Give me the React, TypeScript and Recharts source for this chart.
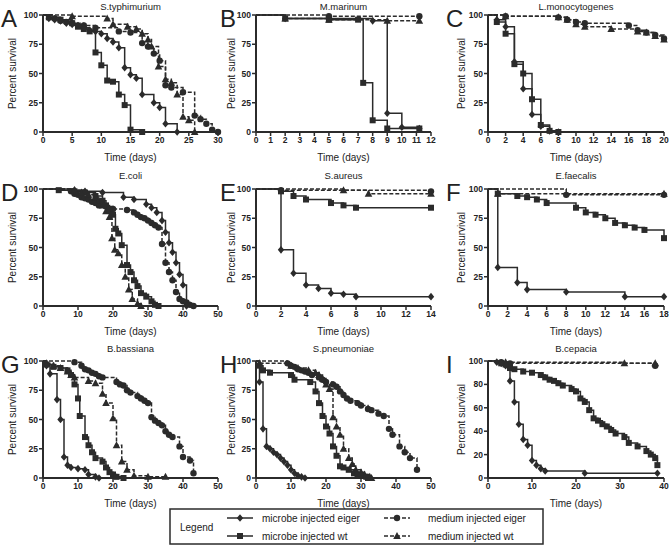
import React from "react";
import { LineChart, Line, XAxis, YAxis } from "recharts";

const FONT = "'Liberation Sans', Arial, sans-serif";
const INK = "#2b2b2b";

// [time (days), percent survival]
// A - S.typhimurium
const typhiEiger = [[0,100],[1,97],[2,96],[3,95],[4,93],[5,92],[6,91],[7,89],[8,87],[9,86],[10,84],[11,80],[12,77],[13,72],[14,55],[15,49],[16,46],[17,32],[19,25],[20,21],[21,7],[23,0]];
const typhiWt = [[0,100],[1,98],[3,96],[5,93],[6,90],[7,88],[8,86],[9,68],[10,57],[11,44],[12,43],[13,32],[14,23],[15,2],[17,0]];
const typhiMedEiger = [[0,100],[2,97],[3,95],[4,94],[5,93],[7,91],[9,89],[13,86],[15,85],[17,76],[18,73],[19,67],[20,61],[21,40],[22,38],[24,34],[26,14],[27,11],[28,7],[29,2],[30,0]];
const typhiMedWt = [[0,100],[5,99],[11,97],[12,92],[14.5,90],[16,88],[17,84],[18,79],[18.6,73],[19.8,56],[21,45],[22,42],[23,32],[24,13],[25,10],[26,0]];

// B - M.marinum
const marinumEiger = [[0,100],[2,97],[5,97],[8,95],[9,16],[10,4],[11.2,3]];
const marinumWt = [[0,100],[2,97],[5,96],[7,96],[7.35,42],[8,10],[9,3],[11.2,3]];
const marinumMedEiger = [[0,100],[5,99],[11.2,99]];
const marinumMedWt = [[0,100],[2,97],[5,96],[9,95],[11.2,95]];

// C - L.monocytogenes
const listeriaEiger = [[0,100],[1,96],[2,90],[3,60],[4,37],[5,15],[6,5],[7,1],[8,0]];
const listeriaWt = [[0,100],[1,94],[2,84],[3,58],[4,50],[5,28],[6,6],[7,1],[8,0]];
const listeriaMedEiger = [[0,100],[2,99],[8,98],[9,96],[10,94],[11,93],[16,91],[17,87],[18,85],[19,83],[20,80]];
const listeriaMedWt = [[0,100],[2,99],[8,98],[9,96],[10,92],[11,90],[14,88],[17,86],[18,85],[19,82],[20,79]];

// D - E.coli
const coliEiger = [[0,100],[9,99],[12,98],[17,97],[23,93],[26,91],[29.5,87],[31,84],[32.5,80],[34,73],[35,63],[36,54],[37,46],[38,37],[39,27],[40,18],[41,0]];
const coliWt = [[0,100],[4.5,99],[9,98],[12,97],[15,94],[17,90],[18,86],[19,82],[20,78],[20.7,66],[21.5,62],[22.5,52],[24,35],[25,29],[26,22],[27,17],[28,11],[29.5,8],[31,4],[32,1],[33,0]];
const coliMedEiger = [[0,100],[8,98],[9,96],[10,95],[11,93],[12,92],[13,91],[14,89],[15,88],[16,86],[18,85],[20,83],[24,82],[26,80],[27,78],[28,76],[29,75],[30,73],[31,71],[32,69],[33,67],[34,53],[35,37],[36,29],[37,22],[38,12],[39,6],[40,4],[41,3],[42,1],[43,0]];
const coliMedWt = [[0,100],[9,99],[11,97],[13,95],[15,93],[16,90],[17,86],[18,81],[19,76],[19.7,58],[20.5,48],[21.5,45],[22.5,35],[23.5,25],[24.5,14],[25.5,6],[27,2],[28,0]];

// E - S.aureus
const aureusEiger = [[0,100],[2,48],[3,28],[4,18],[5,15],[6,11],[7,10],[8,8],[14,8]];
const aureusWt = [[0,100],[2,98],[3,94],[4,91],[6,88],[7,86],[8,84],[14,84]];
const aureusMedEiger = [[0,100],[2,99],[14,98]];
const aureusMedWt = [[0,100],[7,99],[9,96],[14,96]];

// F - E.faecalis
const faecalisEiger = [[0,100],[1,33],[3,20],[4,14],[8,12],[14,8],[18,8]];
const faecalisWt = [[0,100],[1,96],[3,94],[4,93],[5,91],[6,88],[9,84],[10,80],[11,78],[12,75],[13,71],[14,69],[15,67],[16,65],[18,58]];
const faecalisMedEiger = [[0,100],[8,95],[18,95]];
const faecalisMedWt = [[0,100],[1,96],[18,96]];

// G - B.bassiana
const bassianaEiger = [[0,100],[1,96],[2,89],[4,67],[5,50],[6,18],[7,11],[8,9],[10,8],[12,7],[13,3],[15,1],[16,0]];
const bassianaWt = [[0,100],[1,97],[3,95],[5,94],[7,92],[8,88],[9,80],[10,68],[10.5,53],[12,35],[13,28],[14,22],[15,17],[17,14],[18,9],[19,5],[20,3],[21,1],[23,0]];
const bassianaMedEiger = [[0,100],[9,99],[11,96],[12,93],[13,92],[14,90],[15,89],[16,87],[17,86],[21,82],[22,80],[23,79],[24,75],[25,73],[27,70],[28,68],[29,66],[30,64],[31,52],[32,49],[33,47],[34,45],[35,40],[36,37],[37,35],[39,27],[40,18],[42,15],[43,4]];
const bassianaMedWt = [[0,100],[1,98],[3,96],[5,94],[7,91],[8,88],[9,86],[13,83],[15,81],[17,72],[18,64],[20,51],[21,28],[22.5,14],[24,7],[26,2],[30,1],[35,1]];

// H - S.pneumoniae
const pneumoEiger = [[0,100],[1,82],[2,42],[3,27],[4,25],[5,22],[6,20],[7,17],[8,14],[9,11],[10,7],[11,4],[12,2],[13,1],[14,0]];
const pneumoWt = [[0,100],[1,96],[2,92],[4,90],[10,88],[11,84],[15.5,82],[17,74],[18,64],[19,53],[20,44],[21,38],[22,27],[23,19],[24,10],[25,9],[26.5,7],[28,4],[29,3],[30,2],[31.5,1],[32,0]];
const pneumoMedEiger = [[0,100],[9,98],[10,96],[11,95],[12,93],[13,92],[14,91],[15,90],[16,88],[18,86],[19,84],[20,82],[22,80],[23,78],[24,74],[25,71],[26,68],[27,66],[29,64],[30,62],[32,59],[33,58],[35,55],[36.5,53],[38,42],[39,37],[41,27],[42.5,22],[44,17],[46,7]];
const pneumoMedWt = [[0,100],[1,98],[10,96],[12,94],[15,92],[17,90],[18,88],[19,85],[20,80],[21,76],[22,52],[23,44],[24,37],[25,25],[26.5,17],[27.5,12],[28.5,7],[30,5],[31,3],[32.5,1],[33,0]];

// I - B.cepacia
const cepaciaEiger = [[0,100],[2,99],[3,98],[4,96],[5,83],[6,65],[7,46],[8,33],[9,28],[10,15],[11,11],[12,8],[13,6],[22,4],[38.5,4]];
const cepaciaWt = [[0,100],[3,98],[4,97],[5,94],[6,93],[8,91],[10,90],[12,88],[13,86],[14,84],[15,83],[16,81],[17,79],[19,76],[20,74],[21,68],[22,65],[23,58],[24,51],[25,49],[26,46],[27,44],[28,41],[29,38],[31,35],[32,30],[34,27],[36,23],[37,20],[38,17],[38.5,11]];
const cepaciaMedEiger = [[0,100],[3,99],[5,98],[38,96]];
const cepaciaMedWt = [[0,100],[4,99],[31,98],[38,98]];

const ticks25 = [0, 25, 50, 75, 100];
const ticks20 = [0, 20, 40, 60, 80, 100];

type Kind = "diamond" | "square" | "circle" | "triangle";

const toPts = (arr: number[][]) => arr.map(([t, s]) => ({ t, s }));

function markerShape(kind: Kind, size = 1) {
  return (p: any) => {
    const { cx, cy, index } = p;
    const key = `${kind}-${index}`;
    if (index === 0 || cx == null || cy == null) return <g key={key} />;
    const k = size;
    if (kind === "diamond")
      return <path key={key} d={`M${cx},${cy - 3.8 * k}L${cx + 3.2 * k},${cy}L${cx},${cy + 3.8 * k}L${cx - 3.2 * k},${cy}Z`} fill={INK} />;
    if (kind === "square")
      return <rect key={key} x={cx - 3 * k} y={cy - 3 * k} width={6 * k} height={6 * k} fill={INK} />;
    if (kind === "circle") return <circle key={key} cx={cx} cy={cy} r={3.2 * k} fill={INK} />;
    return <path key={key} d={`M${cx},${cy - 4 * k}L${cx + 3.8 * k},${cy + 3 * k}L${cx - 3.8 * k},${cy + 3 * k}Z`} fill={INK} />;
  };
}

const makeSeries = (eiger: number[][], wt: number[][], medEiger: number[][], medWt: number[][]) => [
  { data: medEiger, kind: "circle" as Kind, dashed: true },
  { data: medWt, kind: "triangle" as Kind, dashed: true },
  { data: wt, kind: "square" as Kind, dashed: false },
  { data: eiger, kind: "diamond" as Kind, dashed: false },
];

const PH = 117;
const COLS = [
  { x: 43, w: 175, ylab: 12, letter: 1 },
  { x: 256, w: 175, ylab: 231, letter: 220 },
  { x: 488, w: 176, ylab: 461, letter: 446 },
];
const ROWS = [
  { y: 15, title: 6 },
  { y: 189, title: 175 },
  { y: 361, title: 348 },
];

const panels = [
  { letter: "A", title: "S.typhimurium", xMax: 30, xTicks: [0, 5, 10, 15, 20, 25, 30], yTicks: ticks25, series: makeSeries(typhiEiger, typhiWt, typhiMedEiger, typhiMedWt) },
  { letter: "B", title: "M.marinum", xMax: 12, xTicks: [0, 1, 2, 3, 4, 5, 6, 7, 8, 9, 10, 11, 12], yTicks: ticks25, series: makeSeries(marinumEiger, marinumWt, marinumMedEiger, marinumMedWt) },
  { letter: "C", title: "L.monocytogenes", xMax: 20, xTicks: [0, 2, 4, 6, 8, 10, 12, 14, 16, 18, 20], yTicks: ticks25, series: makeSeries(listeriaEiger, listeriaWt, listeriaMedEiger, listeriaMedWt) },
  { letter: "D", title: "E.coli", xMax: 50, xTicks: [0, 10, 20, 30, 40, 50], yTicks: ticks25, series: makeSeries(coliEiger, coliWt, coliMedEiger, coliMedWt) },
  { letter: "E", title: "S.aureus", xMax: 14, xTicks: [0, 2, 4, 6, 8, 10, 12, 14], yTicks: ticks25, series: makeSeries(aureusEiger, aureusWt, aureusMedEiger, aureusMedWt) },
  { letter: "F", title: "E.faecalis", xMax: 18, xTicks: [0, 2, 4, 6, 8, 10, 12, 14, 16, 18], yTicks: ticks25, series: makeSeries(faecalisEiger, faecalisWt, faecalisMedEiger, faecalisMedWt) },
  { letter: "G", title: "B.bassiana", xMax: 50, xTicks: [0, 10, 20, 30, 40, 50], yTicks: ticks25, series: makeSeries(bassianaEiger, bassianaWt, bassianaMedEiger, bassianaMedWt) },
  { letter: "H", title: "S.pneumoniae", xMax: 50, xTicks: [0, 10, 20, 30, 40, 50], yTicks: ticks25, series: makeSeries(pneumoEiger, pneumoWt, pneumoMedEiger, pneumoMedWt) },
  { letter: "I", title: "B.cepacia", xMax: 40, xTicks: [0, 10, 20, 30, 40], yTicks: ticks20, series: makeSeries(cepaciaEiger, cepaciaWt, cepaciaMedEiger, cepaciaMedWt) },
];

const AXIS_W = 40;
const TOP = 8;
const RIGHT = 8;

const tickStyle = { fontSize: 8.5, fontWeight: 700, fill: "#222", fontFamily: FONT };

function SurvivalChart({ panel, col, row }: any) {
  return (
    <div style={{ position: "absolute", left: col.x - AXIS_W, top: row.y - TOP }}>
      <LineChart
        width={AXIS_W + col.w + RIGHT}
        height={TOP + PH + 26}
        margin={{ top: TOP, right: RIGHT, left: 0, bottom: 0 }}
      >
        <XAxis
          type="number"
          dataKey="t"
          domain={[0, panel.xMax]}
          ticks={panel.xTicks}
          interval={0}
          height={26}
          tickSize={4}
          tickMargin={1}
          axisLine={{ stroke: INK, strokeWidth: 2 }}
          tickLine={{ stroke: INK, strokeWidth: 1.5 }}
          tick={tickStyle}
        />
        <YAxis
          type="number"
          dataKey="s"
          domain={[0, 100]}
          ticks={panel.yTicks}
          interval={0}
          width={AXIS_W}
          tickSize={4}
          tickMargin={1}
          axisLine={{ stroke: INK, strokeWidth: 2 }}
          tickLine={{ stroke: INK, strokeWidth: 1.5 }}
          tick={tickStyle}
        />
        {panel.series.map((s: any, i: number) => (
          <Line
            key={i}
            data={toPts(s.data)}
            dataKey="s"
            type="stepAfter"
            stroke={INK}
            strokeWidth={1.5}
            strokeDasharray={s.dashed ? "4 2" : undefined}
            dot={markerShape(s.kind)}
            activeDot={false}
            isAnimationActive={false}
          />
        ))}
      </LineChart>
    </div>
  );
}

function LegendSample({ x, y, kind, dashed }: { x: number; y: number; kind: Kind; dashed: boolean }) {
  const draw = markerShape(kind);
  return (
    <g>
      <line x1={x} y1={y} x2={x + 26} y2={y} stroke={INK} strokeWidth={1.5} strokeDasharray={dashed ? "4 2" : undefined} />
      {draw({ cx: x + 13, cy: y, index: 1 })}
    </g>
  );
}

export default function App() {
  return (
    <div style={{ position: "absolute", left: 0, top: 0, width: 669, height: 545, overflow: "hidden", background: "#fff", fontFamily: FONT }}>
      {panels.map((p, i) => (
        <SurvivalChart key={p.letter} panel={p} col={COLS[i % 3]} row={ROWS[Math.floor(i / 3)]} />
      ))}
      <svg width={669} height={545} style={{ position: "absolute", left: 0, top: 0, pointerEvents: "none" }}>
        {panels.map((p, i) => {
          const col = COLS[i % 3];
          const row = ROWS[Math.floor(i / 3)];
          const cx = col.x + col.w / 2;
          const midY = row.y + PH / 2;
          return (
            <g key={p.letter} fill="#222" fontFamily={FONT}>
              <text x={col.letter} y={row.y + 12} fontSize={24}>{p.letter}</text>
              <text x={cx} y={row.title} fontSize={9.5} textAnchor="middle" dominantBaseline="central">{p.title}</text>
              <text x={cx} y={row.y + PH + 25} fontSize={10} textAnchor="middle" dominantBaseline="central">Time (days)</text>
              <text x={col.ylab} y={midY} fontSize={10} textAnchor="middle" dominantBaseline="central" transform={`rotate(-90 ${col.ylab} ${midY})`}>Percent survival</text>
            </g>
          );
        })}
        <g fontFamily={FONT} fill="#222" fontSize={10}>
          <rect x={170} y={509} width={373} height={35} fill="#fff" stroke={INK} strokeWidth={1.5} />
          <text x={180} y={527} dominantBaseline="central">Legend</text>
          <LegendSample x={227} y={518} kind="diamond" dashed={false} />
          <text x={262} y={518} dominantBaseline="central">microbe injected eiger</text>
          <LegendSample x={227} y={536} kind="square" dashed={false} />
          <text x={262} y={536} dominantBaseline="central">microbe injected wt</text>
          <LegendSample x={384} y={518} kind="circle" dashed={true} />
          <text x={428} y={518} dominantBaseline="central">medium injected eiger</text>
          <LegendSample x={384} y={536} kind="triangle" dashed={true} />
          <text x={428} y={536} dominantBaseline="central">medium injected wt</text>
        </g>
      </svg>
    </div>
  );
}
